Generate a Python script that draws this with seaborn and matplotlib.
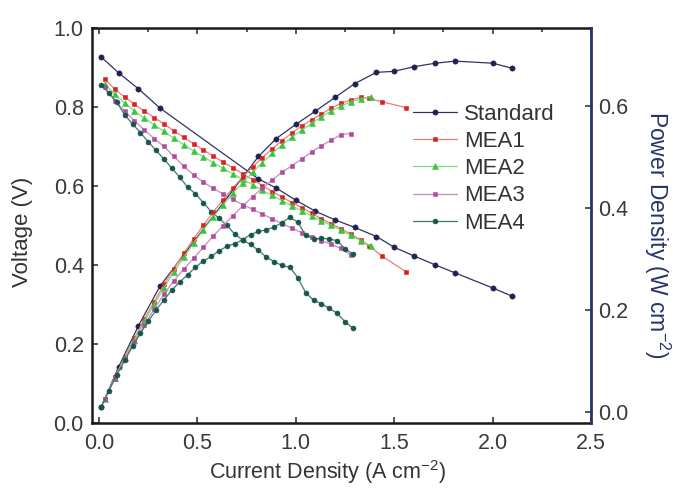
import numpy as np
import pandas as pd
import matplotlib
matplotlib.use("Agg")
import matplotlib.pyplot as plt
import seaborn as sns
from matplotlib.ticker import MultipleLocator

# ---------------- data ----------------
series_names = ["Standard", "MEA1", "MEA2", "MEA3", "MEA4"]

std_j = [0.01, 0.10, 0.20, 0.31, 0.81, 0.90, 1.00,
         1.10, 1.20, 1.30, 1.41, 1.50, 1.60, 1.71, 1.81, 2.00, 2.10]
std_v = [0.927, 0.886, 0.846, 0.797, 0.618, 0.595, 0.564,
         0.536, 0.514, 0.495, 0.472, 0.445, 0.423, 0.400, 0.380, 0.342, 0.321]
std_p = [0.009, 0.089, 0.169, 0.247, 0.501, 0.536, 0.564,
         0.590, 0.617, 0.644, 0.666, 0.668, 0.677, 0.684, 0.688, 0.684, 0.674]

mea1_j = [0.03, 0.08, 0.13, 0.18, 0.23, 0.28, 0.33, 0.38, 0.43, 0.48, 0.53, 0.58,
          0.63, 0.68, 0.73, 0.78, 0.83, 0.88, 0.93, 0.98, 1.03, 1.08, 1.13, 1.18,
          1.23, 1.28, 1.33, 1.37, 1.44, 1.56]
mea1_v = [0.870, 0.845, 0.825, 0.807, 0.790, 0.773, 0.757, 0.740, 0.723, 0.707, 0.691, 0.676,
          0.661, 0.646, 0.631, 0.616, 0.601, 0.586, 0.572, 0.558, 0.545, 0.531, 0.517, 0.505,
          0.492, 0.478, 0.464, 0.449, 0.422, 0.383]
mea1_p = [0.026, 0.068, 0.107, 0.145, 0.182, 0.216, 0.250, 0.281, 0.311, 0.339, 0.366, 0.392,
          0.416, 0.439, 0.461, 0.480, 0.499, 0.516, 0.532, 0.547, 0.561, 0.573, 0.584, 0.596,
          0.605, 0.612, 0.617, 0.615, 0.608, 0.597]

mea2_j = [0.03, 0.08, 0.13, 0.18, 0.23, 0.28, 0.33, 0.38, 0.43, 0.48, 0.53, 0.58,
          0.63, 0.68, 0.73, 0.78, 0.83, 0.88, 0.93, 0.98, 1.03, 1.08, 1.13, 1.18,
          1.23, 1.28, 1.33, 1.38]
mea2_v = [0.858, 0.832, 0.810, 0.790, 0.772, 0.755, 0.738, 0.721, 0.705, 0.689, 0.674, 0.659,
          0.645, 0.631, 0.617, 0.603, 0.589, 0.576, 0.563, 0.550, 0.537, 0.524, 0.512, 0.500,
          0.488, 0.475, 0.462, 0.448]
mea2_p = [0.026, 0.067, 0.105, 0.142, 0.178, 0.211, 0.244, 0.274, 0.303, 0.331, 0.357, 0.382,
          0.406, 0.429, 0.450, 0.470, 0.489, 0.507, 0.524, 0.539, 0.553, 0.566, 0.579, 0.590,
          0.600, 0.608, 0.614, 0.618]

mea3_j = [0.03, 0.08, 0.13, 0.18, 0.23, 0.28, 0.33, 0.38, 0.43, 0.48, 0.53, 0.58,
          0.63, 0.68, 0.73, 0.78, 0.83, 0.88, 0.93, 0.98, 1.03, 1.08, 1.13, 1.18,
          1.23, 1.28]
mea3_v = [0.850, 0.815, 0.790, 0.765, 0.742, 0.720, 0.700, 0.675, 0.650, 0.628, 0.610, 0.594,
          0.580, 0.566, 0.553, 0.541, 0.529, 0.517, 0.505, 0.493, 0.482, 0.472, 0.462, 0.452,
          0.442, 0.425]
mea3_p = [0.026, 0.065, 0.103, 0.138, 0.171, 0.202, 0.231, 0.257, 0.280, 0.301, 0.323, 0.345,
          0.365, 0.385, 0.404, 0.422, 0.439, 0.455, 0.470, 0.483, 0.496, 0.510, 0.522, 0.533,
          0.544, 0.546]

mea4_j = [0.01, 0.05, 0.09, 0.13, 0.17, 0.21, 0.25, 0.29, 0.33, 0.37, 0.41, 0.45,
          0.49, 0.53, 0.57, 0.61, 0.65, 0.69, 0.73, 0.77, 0.81, 0.85, 0.89, 0.93,
          0.97, 1.01, 1.05, 1.09, 1.13, 1.17, 1.21, 1.25, 1.29]
mea4_v = [0.856, 0.835, 0.812, 0.780, 0.757, 0.735, 0.712, 0.690, 0.668, 0.645, 0.622, 0.597,
          0.580, 0.558, 0.535, 0.518, 0.500, 0.478, 0.463, 0.452, 0.437, 0.420, 0.408, 0.399,
          0.394, 0.368, 0.330, 0.311, 0.302, 0.290, 0.278, 0.256, 0.240]
mea4_p = [0.009, 0.042, 0.073, 0.101, 0.129, 0.154, 0.178, 0.200, 0.220, 0.239, 0.255, 0.269,
          0.284, 0.296, 0.305, 0.316, 0.325, 0.330, 0.338, 0.348, 0.354, 0.357, 0.363, 0.371,
          0.382, 0.372, 0.347, 0.339, 0.341, 0.339, 0.336, 0.320, 0.310]

x_ticks = [0.0, 0.5, 1.0, 1.5, 2.0, 2.5]
v_ticks = [0.0, 0.2, 0.4, 0.6, 0.8, 1.0]
p_ticks = [0.0, 0.2, 0.4, 0.6]

# ---------------- long table ----------------
all_j = [std_j, mea1_j, mea2_j, mea3_j, mea4_j]
all_v = [std_v, mea1_v, mea2_v, mea3_v, mea4_v]
all_p = [std_p, mea1_p, mea2_p, mea3_p, mea4_p]
frames = []
for name, j, v, p in zip(series_names, all_j, all_v, all_p):
    frames.append(pd.DataFrame({"series": name, "j": j, "V": v, "P": p}))
df = pd.concat(frames, ignore_index=True)

# ---------------- style ----------------
marker_colors = {"Standard": "#1f2250", "MEA1": "#d82222", "MEA2": "#3cc43c",
                 "MEA3": "#b04c9c", "MEA4": "#17564a"}
line_colors = {"Standard": "#30335e", "MEA1": "#f07a7a", "MEA2": "#7fdc7f",
               "MEA3": "#c98ac0", "MEA4": "#3f7a6e"}
markers = {"Standard": "o", "MEA1": "s", "MEA2": "^", "MEA3": "s", "MEA4": "o"}
msize = {"Standard": 3.8, "MEA1": 3.3, "MEA2": 3.8, "MEA3": 3.0, "MEA4": 3.6}

sns.set_style("ticks")
plt.rcParams["font.family"] = ["Liberation Sans", "DejaVu Sans"]
plt.rcParams["mathtext.fontset"] = "custom"
plt.rcParams["mathtext.rm"] = "Liberation Sans"

fig = plt.figure(figsize=(6.73, 4.91), dpi=100)
ax = fig.add_axes([0.137, 0.1385, 0.741, 0.8045])
ax2 = ax.twinx()

for name in series_names:
    sub = df[df["series"] == name]
    kw = dict(color=line_colors[name], marker=markers[name], markersize=msize[name],
              markerfacecolor=marker_colors[name], markeredgecolor=marker_colors[name],
              markeredgewidth=0.4, linewidth=0.9, sort=False, estimator=None)
    sns.lineplot(data=sub, x="j", y="V", ax=ax, label=name, **kw)
    sns.lineplot(data=sub, x="j", y="P", ax=ax2, legend=False, **kw)

ax.set_xlim(-0.035, 2.5)
ax.set_ylim(0.0, 1.0)
ax2.set_ylim(-0.0216, 0.753)
ax.set_xticks(x_ticks)
ax.set_xticklabels([f"{t:.1f}" for t in x_ticks])
ax.set_yticks(v_ticks)
ax.set_yticklabels([f"{t:.1f}" for t in v_ticks])
ax2.set_yticks(p_ticks)
ax2.set_yticklabels([f"{t:.1f}" for t in p_ticks])
ax.xaxis.set_minor_locator(MultipleLocator(0.25))

tick_color = "#3a3a3a"
fs_tick = 15.5
fs_lab = 16
ax.tick_params(axis="both", which="both", direction="in", labelsize=fs_tick,
               colors=tick_color, top=True, length=4, width=1.2)
ax.tick_params(axis="x", which="minor", length=3, bottom=False, top=True)
ax.tick_params(axis="y", right=False, pad=6)
ax.tick_params(axis="x", pad=7)
ax2.tick_params(axis="y", direction="in", labelsize=fs_tick, colors=tick_color,
                length=4, width=1.2, pad=5)

for s in ["left", "bottom", "top"]:
    ax.spines[s].set_linewidth(1.8)
    ax.spines[s].set_color("#1a1a1a")
ax2.spines["right"].set_linewidth(2.0)
ax2.spines["right"].set_color("#27346a")
ax.spines["right"].set_visible(False)
for s in ["left", "bottom", "top"]:
    ax2.spines[s].set_visible(False)

ax.set_xlabel("Current Density (A cm$^{-2}$)", fontsize=15.5, color="#333333",
              va="center", ha="center")
ax.xaxis.set_label_coords(0.473, -0.124)
ax.set_ylabel("Voltage (V)", fontsize=fs_lab, color="#333333", va="center", ha="center")
ax.yaxis.set_label_coords(-0.140, 0.483)
ax2.set_ylabel("Power Density (W cm$^{-2}$)", fontsize=16.5, color="#27346a",
               rotation=270, va="center", ha="center")
ax2.yaxis.set_label_coords(1.132, 0.476)

handles, labels = ax.get_legend_handles_labels()
ax.legend(handles, labels, loc="upper left", bbox_to_anchor=(0.643, 0.808),
          frameon=False, fontsize=fs_lab, handlelength=2.0, handletextpad=0.3,
          labelspacing=0.28, borderpad=0, borderaxespad=0, labelcolor="#333333")

fig.savefig("out.png", dpi=100)
